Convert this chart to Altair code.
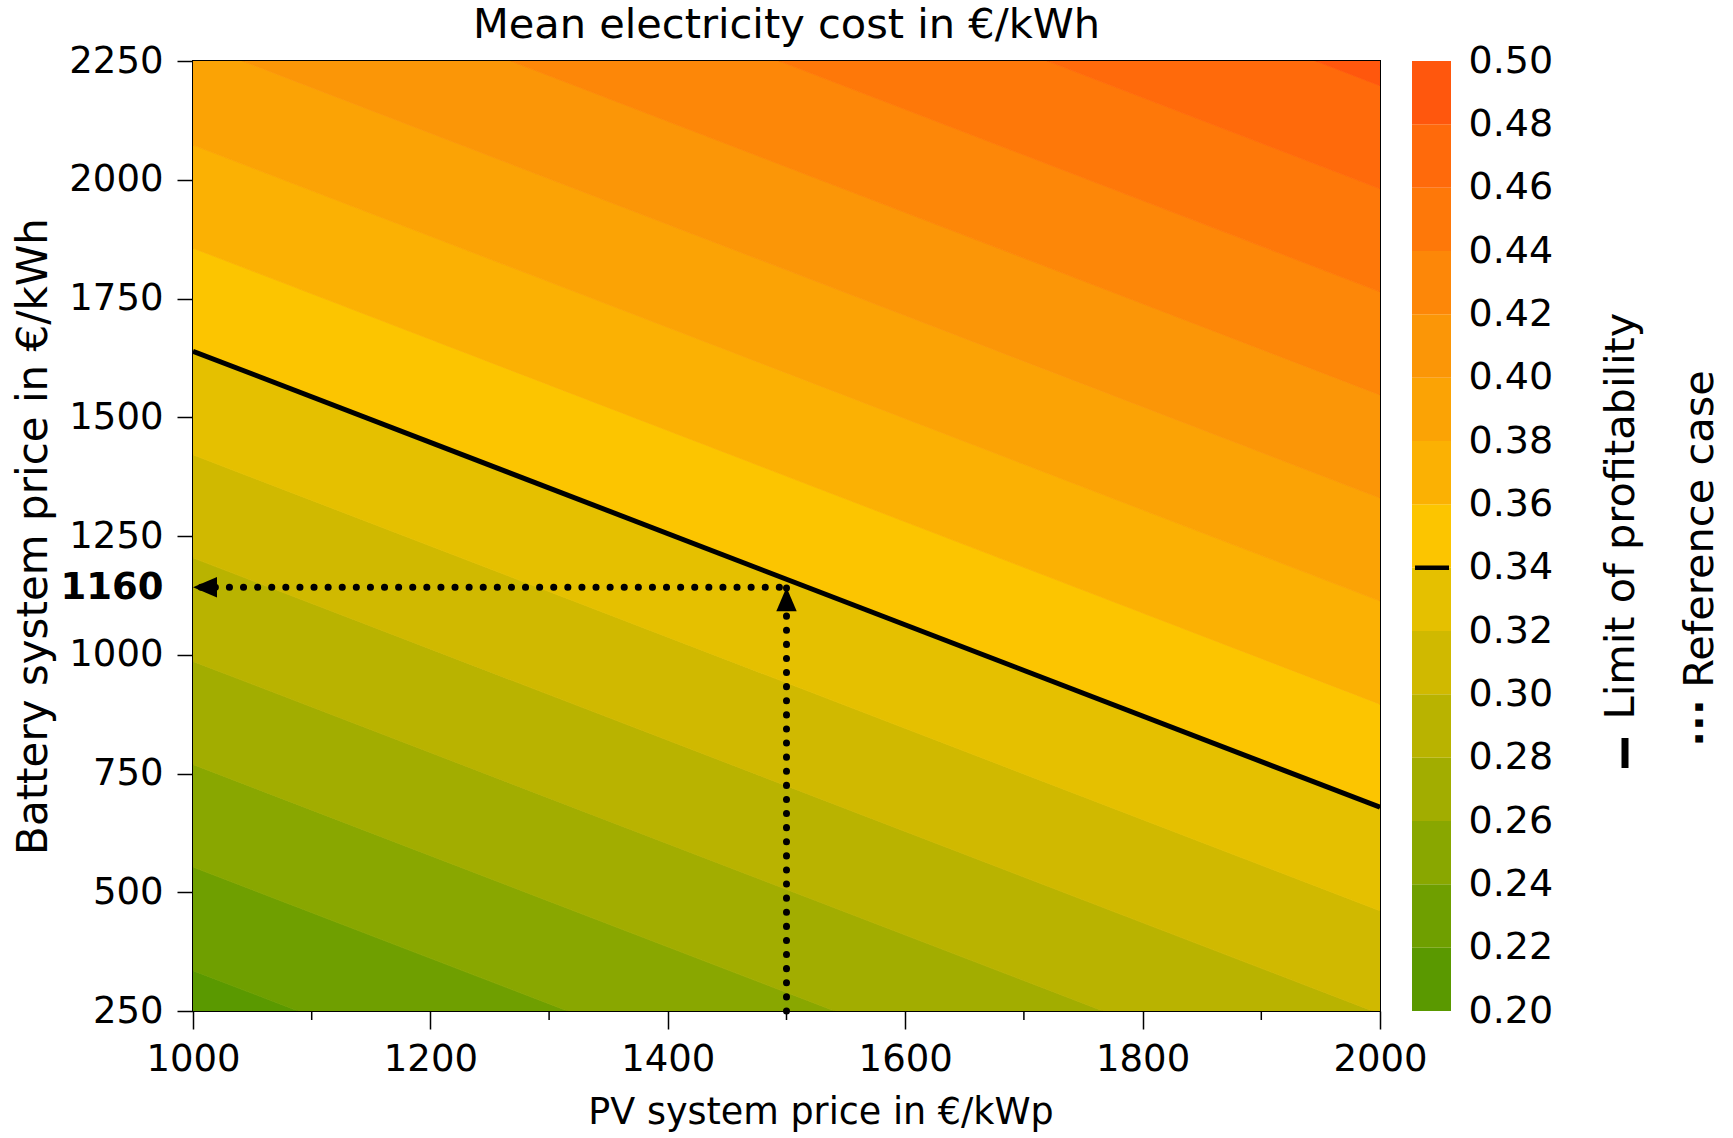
import altair as alt
import pandas as pd

# Contour levels (€/kWh) and where each level line meets the left (PV=1000) and right (PV=2000) edges,
# read from the picture as battery price in €/kWh (parts outside the frame are clipped)
levels = [0.20, 0.22, 0.24, 0.26, 0.28, 0.30, 0.32, 0.34, 0.36, 0.38, 0.40, 0.42, 0.44, 0.46, 0.48, 0.50]
level_y_at_pv1000 = [118, 335, 553, 769, 986, 1204, 1421, 1639, 1856, 2073, 2290, 2507, 2724, 2941, 3158, 3375]
level_y_at_pv2000 = [-842, -625, -407, -191, 26, 244, 461, 679, 896, 1113, 1330, 1547, 1764, 1981, 2198, 2415]
band_colors = ["#5A9900", "#6F9F00", "#89A700", "#A2AD00", "#B9B300", "#D0B900", "#E5C000", "#FCC500",
               "#FBB103", "#FBA305", "#FB9607", "#FD8708", "#FE7809", "#FF6A0B", "#FF570D"]
pv_edges = [1000, 2000]
x_ticks = [1000, 1200, 1400, 1600, 1800, 2000]
x_minor_ticks = [1100, 1300, 1500, 1700, 1900]
y_ticks = [250, 500, 750, 1000, 1250, 1500, 1750, 2000, 2250]
ref_pv = 1500
ref_battery_drawn = 1142      # where the dotted reference lines sit in the picture
ref_battery_label = "1160"    # the bold label printed there
profit_level = 0.34

FONT = "DejaVu Sans"
W, H = 1187, 950

xscale = alt.Scale(domain=[1000, 2000], nice=False, zero=False)
yscale = alt.Scale(domain=[250, 2250], nice=False, zero=False)

x_axis = alt.Axis(values=x_ticks, format="d", tickSize=18, labelPadding=12, titlePadding=17,
                  labelFontSize=37, titleFontSize=36.5, labelFlush=False, titleX=W / 2 + 34, titleAlign="center",
                  domain=False, grid=False, title="PV system price in €/kWp")
ref_test = f"datum.value == {ref_battery_drawn}"
y_axis = alt.Axis(values=y_ticks + [ref_battery_drawn], format="d", tickSize=16, labelPadding=14,
                  titlePadding=5, labelFontSize=37, titleFontSize=42, labelFlush=False,
                  domain=False, grid=False, title="Battery system price in €/kWh",
                  labelExpr=f"{ref_test} ? '{ref_battery_label}' : datum.label",
                  labelFontWeight={"condition": {"test": ref_test, "value": "bold"}, "value": "normal"},
                  tickOpacity={"condition": {"test": ref_test, "value": 0}, "value": 1})


def X(field="pv"):
    return alt.X(f"{field}:Q", scale=xscale, axis=x_axis)


def Y(field="battery"):
    return alt.Y(f"{field}:Q", scale=yscale, axis=y_axis, stack=None)


band_layers = []
for i in range(len(levels) - 1):
    df = pd.DataFrame({
        "pv": pv_edges,
        "battery": [level_y_at_pv1000[i], level_y_at_pv2000[i]],
        "hi": [level_y_at_pv1000[i + 1], level_y_at_pv2000[i + 1]],
    })
    band_layers.append(
        alt.Chart(df).mark_area(clip=True, color=band_colors[i], stroke=band_colors[i], strokeWidth=0.8).encode(
            x=X(), y=Y(), y2="hi:Q",
        )
    )

pi = levels.index(profit_level)
profit_df = pd.DataFrame({"pv": pv_edges, "battery": [level_y_at_pv1000[pi], level_y_at_pv2000[pi]]})
profit = alt.Chart(profit_df).mark_line(color="black", strokeWidth=5, clip=True).encode(x=X(), y=Y())

h_df = pd.DataFrame({"pv": [ref_pv - 6, pv_edges[0]], "battery": [ref_battery_drawn, ref_battery_drawn], "o": [0, 1]})
v_df = pd.DataFrame({"pv": [ref_pv, ref_pv], "battery": [y_ticks[0], ref_battery_drawn], "o": [0, 1]})
dot_style = dict(color="black", strokeWidth=7, strokeCap="round", strokeDash=[0.1, 14])
href = alt.Chart(h_df).mark_line(**dot_style).encode(x=X(), y=Y(), order="o:Q")
vref = alt.Chart(v_df).mark_line(**dot_style).encode(x=X(), y=Y(), order="o:Q")

arrow_left = alt.Chart(pd.DataFrame({"pv": [pv_edges[0]], "battery": [ref_battery_drawn]})).mark_point(
    shape="M-1,0L1,-0.85L1,0.85Z", filled=True, color="black", opacity=1, size=576, xOffset=12
).encode(x=X(), y=Y())
arrow_up = alt.Chart(pd.DataFrame({"pv": [ref_pv], "battery": [ref_battery_drawn]})).mark_point(
    shape="M0,-1L0.85,1L-0.85,1Z", filled=True, color="black", opacity=1, size=576, yOffset=12
).encode(x=X(), y=Y())

minor = alt.Chart(pd.DataFrame({"pv": x_minor_ticks})).mark_rule(color="black", strokeWidth=1.5).encode(
    x=X(), y=alt.value(H), y2=alt.value(H + 9))

main = alt.layer(*band_layers, profit, href, vref, arrow_left, arrow_up, minor).properties(
    width=W, height=H,
    title=alt.Title("Mean electricity cost in €/kWh", fontSize=41.5, fontWeight="normal", font=FONT,
                    anchor="middle", frame="group", offset=-4, color="black"),
    view=alt.ViewBackground(stroke="black", strokeWidth=2),
)

# Colour bar
band_labels = [f"{l:.2f}" for l in levels[:-1]]
cb_scale = alt.Scale(domain=[levels[0], levels[-1]], nice=False, zero=False)
cb_axis = alt.Axis(orient="right", values=levels, format=".2f", ticks=False, domain=False, grid=False,
                   labelPadding=17, labelFontSize=38, labelFlush=False, title=None)
cb_df = pd.DataFrame({"lo": levels[:-1], "hi": levels[1:], "band": band_labels})
cb_rect = alt.Chart(cb_df).mark_rect().encode(
    y=alt.Y("lo:Q", scale=cb_scale, axis=cb_axis),
    y2="hi:Q",
    x=alt.value(0), x2=alt.value(39),
    color=alt.Color("band:N", scale=alt.Scale(domain=band_labels, range=band_colors), legend=None),
)
cb_mark = alt.Chart(pd.DataFrame({"lo": [profit_level]})).mark_rule(color="black", strokeWidth=4.5).encode(
    y=alt.Y("lo:Q", scale=cb_scale, axis=cb_axis), x=alt.value(3), x2=alt.value(37))

txt_style = dict(angle=270, fontSize=41.5, font=FONT, align="center", baseline="middle", color="black")
leg1 = alt.Chart(pd.DataFrame({"t": ["Limit of profitability"]})).mark_text(**txt_style).encode(
    text="t:N", x=alt.value(210), y=alt.value(455))
leg1_dash = alt.Chart(pd.DataFrame({"t": ["Limit of profitability"]})).mark_rule(
    color="black", strokeWidth=7).encode(x=alt.value(213), y=alt.value(677), y2=alt.value(707))
leg2 = alt.Chart(pd.DataFrame({"t": ["Reference case"]})).mark_text(**txt_style).encode(
    text="t:N", x=alt.value(289), y=alt.value(468))
leg2_dots = alt.Chart(pd.DataFrame({"t": ["···"]})).mark_text(**txt_style, fontWeight="bold").encode(
    text="t:N", x=alt.value(289), y=alt.value(662))

cbar = alt.layer(cb_rect, cb_mark, leg1, leg1_dash, leg2, leg2_dots).properties(
    width=39, height=H, view=alt.ViewBackground(stroke=None))

chart = alt.hconcat(main, cbar, spacing=32, bounds="flush").properties(
    padding={"left": 11, "top": 3, "right": 5, "bottom": 5}
).configure(font=FONT).configure_axis(
    labelColor="black", titleColor="black", titleFontWeight="normal",
    tickColor="black", tickWidth=1.5, labelFont=FONT, titleFont=FONT,
).configure_view(stroke=None)

chart.save("out.html", embed_options={"renderer": "svg", "actions": False})
